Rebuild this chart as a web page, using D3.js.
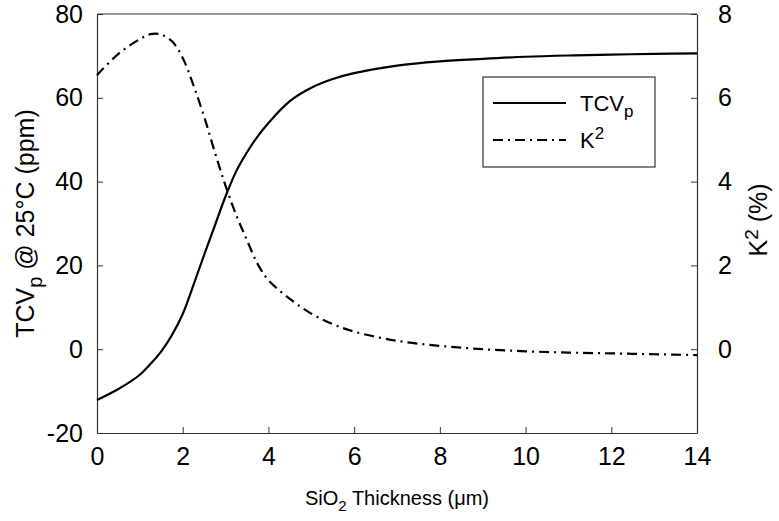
<!DOCTYPE html>
<html>
<head>
<meta charset="utf-8">
<script src="https://cdn.jsdelivr.net/npm/d3@7"></script>
<style>
  body { margin: 0; background: #fff; }
  text { font-family: "Liberation Sans", Arial, sans-serif; fill: #000; }
</style>
</head>
<body>
<div id="chart"></div>
<script>
// SiO2 thickness (um)
const thickness = [0, 0.5, 1, 1.25, 1.5, 1.75, 2, 2.25, 2.5, 2.75, 3, 3.25, 3.5, 3.75, 4, 4.5, 5, 5.5, 6, 7, 8, 9, 10, 11, 12, 13, 14];
// TCVp @ 25C (ppm), left axis
const tcv = [-12.1, -9.5, -6.1, -3.5, -0.5, 3.4, 8.4, 15.3, 22.5, 29.5, 36.5, 42.5, 47, 50.8, 54, 59.2, 62.4, 64.5, 65.9, 67.7, 68.7, 69.3, 69.8, 70.1, 70.3, 70.5, 70.6];
// K2 (%), right axis
const k2 = [6.54, 7.05, 7.4, 7.52, 7.51, 7.35, 6.95, 6.3, 5.55, 4.7, 3.9, 3.2, 2.6, 2.03, 1.65, 1.2, 0.85, 0.6, 0.42, 0.2, 0.08, 0.0, -0.05, -0.08, -0.1, -0.12, -0.14];

const xTicks = [0, 2, 4, 6, 8, 10, 12, 14];
const leftTicks = [-20, 0, 20, 40, 60, 80];
const rightTicks = [0, 2, 4, 6, 8];

const width = 779, height = 521;
const margin = {top: 14, right: 82, bottom: 88, left: 97};
const w = width - margin.left - margin.right;
const h = height - margin.top - margin.bottom;

const svg = d3.select("#chart").append("svg")
  .attr("width", width)
  .attr("height", height);

const g = svg.append("g")
  .attr("transform", "translate(" + margin.left + "," + margin.top + ")");

const x = d3.scaleLinear().domain([0, 14]).range([0, w]);
const yL = d3.scaleLinear().domain([-20, 80]).range([h, 0]);
const yR = d3.scaleLinear().domain([-2, 8]).range([h, 0]);

const fmt = function(d) { return String(d); }; // plain hyphen for negatives

// axes, ticks pointing inward
const xAxis = g.append("g")
  .attr("transform", "translate(0," + h + ")")
  .call(d3.axisBottom(x).tickValues(xTicks).tickFormat(fmt).tickSizeInner(-6).tickSizeOuter(0).tickPadding(14));
const lAxis = g.append("g")
  .call(d3.axisLeft(yL).tickValues(leftTicks).tickFormat(fmt).tickSizeInner(-6).tickSizeOuter(0).tickPadding(14));
const rAxis = g.append("g")
  .attr("transform", "translate(" + w + ",0)")
  .call(d3.axisRight(yR).tickValues(rightTicks).tickFormat(fmt).tickSizeInner(-6).tickSizeOuter(0).tickPadding(21));

// top frame line
g.append("line")
  .attr("x1", 0).attr("x2", w).attr("y1", 0).attr("y2", 0)
  .attr("stroke", "#333").attr("stroke-width", 1.2);

[xAxis, lAxis, rAxis].forEach(function(a) {
  a.selectAll(".domain").attr("stroke", "#333").attr("stroke-width", 1.2);
  a.selectAll(".tick line").attr("stroke", "#333");
  a.selectAll(".tick text").attr("font-size", 25).attr("fill", "#000")
    .style("font-family", "'Liberation Sans', Arial, sans-serif");
});

const lineTcv = d3.line()
  .x(function(d, i) { return x(thickness[i]); })
  .y(function(d) { return yL(d); })
  .curve(d3.curveCatmullRom.alpha(0.5));

const lineK2 = d3.line()
  .x(function(d, i) { return x(thickness[i]); })
  .y(function(d) { return yR(d); })
  .curve(d3.curveCatmullRom.alpha(0.5));

g.append("path")
  .datum(tcv)
  .attr("d", lineTcv)
  .attr("fill", "none")
  .attr("stroke", "#000")
  .attr("stroke-width", 2.2);

g.append("path")
  .datum(k2)
  .attr("d", lineK2)
  .attr("fill", "none")
  .attr("stroke", "#000")
  .attr("stroke-width", 2.2)
  .attr("stroke-dasharray", "10,5,2,5");

// axis titles
const leftTitle = svg.append("text")
  .attr("transform", "translate(34," + (margin.top + h / 2) + ") rotate(-90)")
  .attr("text-anchor", "middle")
  .attr("font-size", 25);
leftTitle.append("tspan").text("TCV");
leftTitle.append("tspan").attr("font-size", 20).attr("dy", 8).text("p");
leftTitle.append("tspan").attr("dy", -8).text(" @ 25°C (ppm)");

const rightTitle = svg.append("text")
  .attr("transform", "translate(767," + (margin.top + 206) + ") rotate(-90)")
  .attr("text-anchor", "middle")
  .attr("font-size", 25);
rightTitle.append("tspan").text("K");
rightTitle.append("tspan").attr("font-size", 19).attr("dy", -9).text("2");
rightTitle.append("tspan").attr("dy", 9).text(" (%)");

const xTitle = svg.append("text")
  .attr("x", margin.left + w / 2)
  .attr("y", 505)
  .attr("text-anchor", "middle")
  .attr("font-size", 20);
xTitle.append("tspan").text("SiO");
xTitle.append("tspan").attr("font-size", 15).attr("dy", 6).text("2");
xTitle.append("tspan").attr("dy", -6).text(" Thickness (μm)");

// legend
const legend = svg.append("g");
legend.append("rect")
  .attr("x", 483).attr("y", 77).attr("width", 172).attr("height", 90)
  .attr("fill", "#fff").attr("stroke", "#333").attr("stroke-width", 1.2);

const legendItems = [
  {label: "TCV", sub: "p", sup: null, dash: null, y: 103},
  {label: "K", sub: null, sup: "2", dash: "10,5,2,5", y: 140}
];
legendItems.forEach(function(d) {
  legend.append("line")
    .attr("x1", 493).attr("x2", 566).attr("y1", d.y).attr("y2", d.y)
    .attr("stroke", "#000").attr("stroke-width", 2.2)
    .attr("stroke-dasharray", d.dash);
  const t = legend.append("text")
    .attr("x", 580).attr("y", d.y + 8)
    .attr("font-size", 22);
  t.append("tspan").text(d.label);
  if (d.sub) t.append("tspan").attr("font-size", 17).attr("dy", 6).text(d.sub);
  if (d.sup) t.append("tspan").attr("font-size", 17).attr("dy", -9).text(d.sup);
});
</script>
</body>
</html>
